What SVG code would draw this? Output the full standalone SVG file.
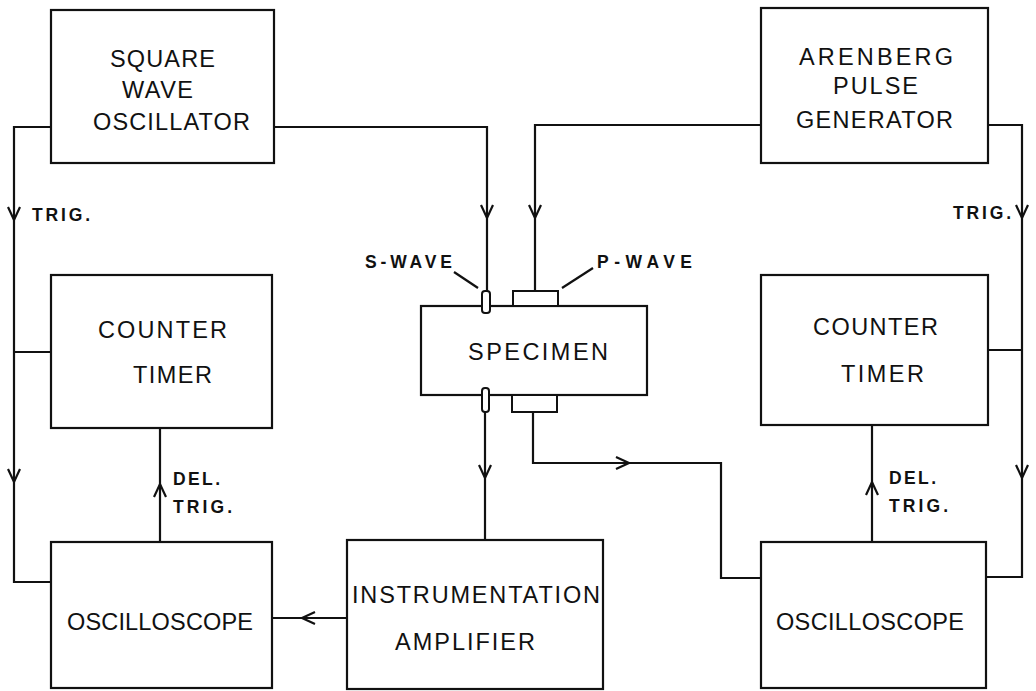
<svg xmlns="http://www.w3.org/2000/svg" width="1036" height="691" viewBox="0 0 1036 691">
<style>
.box{fill:none;stroke:#111;stroke-width:2.2}
.ln{fill:none;stroke:#111;stroke-width:2.2}
.t{font-family:"Liberation Sans",Arial,sans-serif;font-size:23.5px;fill:#111}
.s{font-family:"Liberation Sans",Arial,sans-serif;font-size:17.5px;font-weight:bold;fill:#111}
.tr{fill:#fff;stroke:#111;stroke-width:2}
</style>
<defs>
<path id="chev" d="M-6,-13 L0,0 L6,-13" fill="none" stroke="#111" stroke-width="2.2"/>
</defs>
<rect width="1036" height="691" fill="#fff"/>
<g id="connectors">
<path class="ln" d="M51,127 H14 V582 H51"/>
<path class="ln" d="M14,352 H51"/>
<path class="ln" d="M274,127 H487 V291"/>
<path class="ln" d="M761,125 H535 V291"/>
<path class="ln" d="M988,125 H1022 V577 H986"/>
<path class="ln" d="M988,350 H1022"/>
<path class="ln" d="M160,542 V428"/>
<path class="ln" d="M872,542 V425"/>
<path class="ln" d="M485,412 V540"/>
<path class="ln" d="M533,412 V463 H721 V578 H761"/>
<path class="ln" d="M347,618 H272"/>
<use href="#chev" transform="translate(14,220)"/>
<use href="#chev" transform="translate(14,482)"/>
<use href="#chev" transform="translate(487,218)"/>
<use href="#chev" transform="translate(535,218)"/>
<use href="#chev" transform="translate(1022,218)"/>
<use href="#chev" transform="translate(1022,478)"/>
<use href="#chev" transform="translate(160,484) rotate(180)"/>
<use href="#chev" transform="translate(872,482) rotate(180)"/>
<use href="#chev" transform="translate(485,478)"/>
<use href="#chev" transform="translate(629,463) rotate(-90)"/>
<use href="#chev" transform="translate(302,618) rotate(90)"/>
<path class="ln" d="M454,272 L478,288" stroke-width="2"/>
<path class="ln" d="M593,268 L562,288" stroke-width="2"/>
<text class="s" x="32" y="221" textLength="58" lengthAdjust="spacing">TRIG.</text>
<text class="s" x="953" y="219" textLength="58" lengthAdjust="spacing">TRIG.</text>
<text class="s" x="173" y="485" textLength="47" lengthAdjust="spacing">DEL.</text>
<text class="s" x="173" y="513" textLength="59" lengthAdjust="spacing">TRIG.</text>
<text class="s" x="889" y="484" textLength="47" lengthAdjust="spacing">DEL.</text>
<text class="s" x="889" y="512" textLength="59" lengthAdjust="spacing">TRIG.</text>
<text class="s" x="365" y="268" textLength="87" lengthAdjust="spacing">S-WAVE</text>
<text class="s" x="597" y="268" textLength="95" lengthAdjust="spacing">P-WAVE</text>
</g>
<g id="square-wave-oscillator">
<rect class="box" x="51" y="10" width="223" height="153"/>
<text class="t" x="110" y="67" textLength="105" lengthAdjust="spacing">SQUARE</text>
<text class="t" x="122" y="98" textLength="71" lengthAdjust="spacing">WAVE</text>
<text class="t" x="93" y="130" textLength="157" lengthAdjust="spacing">OSCILLATOR</text>
</g>
<g id="arenberg-pulse-generator">
<rect class="box" x="761" y="8" width="227" height="155"/>
<text class="t" x="799" y="65" textLength="154" lengthAdjust="spacing">ARENBERG</text>
<text class="t" x="833" y="94" textLength="85" lengthAdjust="spacing">PULSE</text>
<text class="t" x="796" y="128" textLength="157" lengthAdjust="spacing">GENERATOR</text>
</g>
<g id="counter-timer-left">
<rect class="box" x="51" y="275" width="221" height="153"/>
<text class="t" x="98" y="338" textLength="129" lengthAdjust="spacing">COUNTER</text>
<text class="t" x="133" y="383" textLength="79" lengthAdjust="spacing">TIMER</text>
</g>
<g id="counter-timer-right">
<rect class="box" x="761" y="275" width="227" height="150"/>
<text class="t" x="813" y="335" textLength="125" lengthAdjust="spacing">COUNTER</text>
<text class="t" x="841" y="382" textLength="83" lengthAdjust="spacing">TIMER</text>
</g>
<g id="specimen">
<rect class="box" x="421" y="306" width="226" height="89"/>
<text class="t" x="468" y="360" textLength="140" lengthAdjust="spacing">SPECIMEN</text>
<rect class="tr" x="482" y="291" width="8" height="22" rx="3"/>
<rect class="tr" x="513" y="291" width="45" height="15"/>
<rect class="tr" x="482" y="388" width="7" height="24" rx="3"/>
<rect class="tr" x="512" y="395" width="45" height="17"/>
</g>
<g id="oscilloscope-left">
<rect class="box" x="51" y="542" width="221" height="146"/>
<text class="t" x="67" y="630" textLength="186" lengthAdjust="spacing">OSCILLOSCOPE</text>
</g>
<g id="instrumentation-amplifier">
<rect class="box" x="347" y="540" width="256" height="149"/>
<text class="t" x="352" y="603" textLength="248" lengthAdjust="spacing">INSTRUMENTATION</text>
<text class="t" x="395" y="650" textLength="140" lengthAdjust="spacing">AMPLIFIER</text>
</g>
<g id="oscilloscope-right">
<rect class="box" x="761" y="542" width="225" height="146"/>
<text class="t" x="776" y="630" textLength="188" lengthAdjust="spacing">OSCILLOSCOPE</text>
</g>
</svg>
